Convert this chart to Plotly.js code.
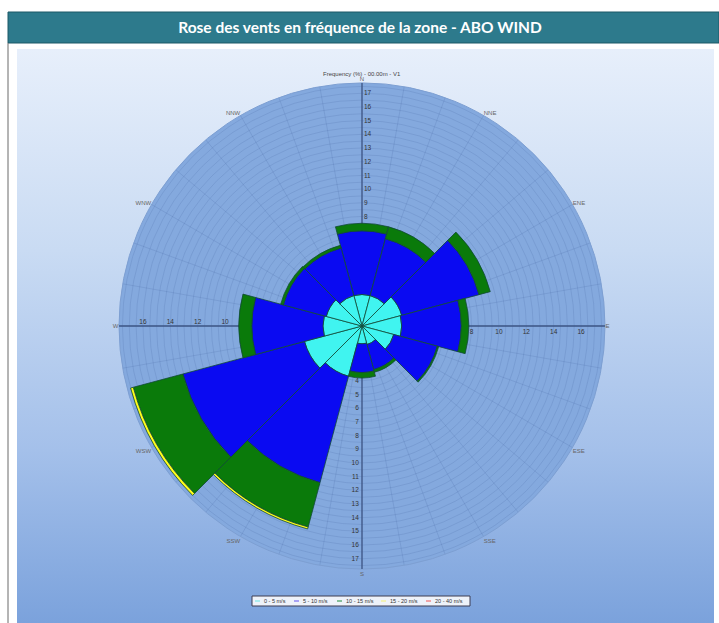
<!DOCTYPE html>
<html>
<head>
<meta charset="utf-8">
<script src="https://cdn.plot.ly/plotly-3.0.1.min.js"></script>
<style>
  html, body { margin: 0; padding: 0; background: #ffffff; }
  #wrap { position: relative; width: 719px; height: 623px; background: #ffffff; overflow: hidden; }
  #panel { position: absolute; left: 17px; top: 49px; width: 697px; height: 574px;
           background: linear-gradient(180deg, #e7effb 0%, #c9dbf3 35%, #a4c0ea 70%, #7ba2dc 100%); }
  #chart { position: absolute; left: 0; top: 0; width: 719px; height: 623px; }
</style>
</head>
<body>
<div id="wrap">
  <div id="panel"></div>
  <div id="chart"></div>
</div>
<script>
// ---- data (frequency %, 12 sectors) ----
const directions = [0, 30, 60, 90, 120, 150, 180, 210, 240, 270, 300, 330];
const dirLabels  = ["N", "NNE", "ENE", "E", "ESE", "SSE", "S", "SSW", "WSW", "W", "WNW", "NNW"];
const speedClasses = ["0 - 5 m/s", "5 - 10 m/s", "10 - 15 m/s", "15 - 20 m/s", "20 - 40 m/s"];
const freq0_5   = [2.3, 2.3, 3.0, 2.9, 2.4, 1.4, 1.3, 3.8, 4.35, 2.85, 2.7, 2.3];
const freq5_10  = [4.65, 4.3, 5.85, 4.35, 3.3, 1.9, 2.1, 8.05, 9.2, 5.2, 3.25, 3.6];
const freq10_15 = [0.55, 0.9, 0.85, 0.55, 0.1, 0.2, 0.4, 3.35, 3.75, 0.95, 0.2, 0.2];
const freq15_20 = [0, 0, 0, 0, 0, 0, 0, 0.15, 0.2, 0, 0, 0];
const freq20_40 = [0, 0, 0, 0, 0, 0, 0, 0, 0, 0, 0, 0];
const classColors = ["#40f4f0", "#0a0af2", "#0a7a0a", "#ffff1a", "#ff2020"];
const legendColors = ["#7fe8e8", "#7a6cf0", "#3f9a5a", "#f4f08a", "#f07070"];
const titleText = "Rose des vents en fréquence de la zone - ABO WIND";
const subTitle = "Frequency (%) - 00.00m - V1";

// ---- layout helpers ----
const W = 719, H = 623;
const cx = 362, cy = 326, R = 243;
const dom = {
  x: [(cx - R) / W, (cx + R) / W],
  y: [1 - (cy + R) / H, 1 - (cy - R) / H]
};
const rMax = 17.75;
const txtFont = "Liberation Sans, Arial, sans-serif";

function hiddenAngular() {
  return { direction: "clockwise", rotation: 90, showgrid: false, showline: false,
           showticklabels: false, ticks: "" };
}
function labelRadial(angle, dtick, tickangle) {
  return { range: [0, rMax], angle: angle, side: "clockwise", dtick: dtick, tick0: 0,
           tickangle: tickangle,
           showgrid: false, showline: true, linecolor: "#3e5686", linewidth: 1.3,
           ticks: "", showticklabels: true,
           tickfont: { family: txtFont, size: 6.5, color: "#333333" } };
}

const seriesData = [freq0_5, freq5_10, freq10_15, freq15_20, freq20_40];
const traces = [];
// empty traces to instantiate background / label subplots
["polar", "polar2", "polar3", "polar4", "polar5"].forEach(function (p) {
  traces.push({ type: "barpolar", r: [], theta: [], subplot: p, showlegend: false, hoverinfo: "skip" });
});
seriesData.forEach(function (vals, i) {
  traces.push({
    type: "barpolar",
    name: speedClasses[i],
    r: vals,
    theta: directions,
    width: directions.map(function () { return 30; }),
    subplot: "polar6",
    showlegend: false,
    marker: { color: classColors[i], line: { color: "#124a36", width: 0.8 } },
    hoverinfo: "skip"
  });
});

// ---- compact legend (box, short line keys, labels) ----
const legX0 = 252, legX1 = 470, legY0 = 596, legY1 = 606, legYc = 601;
const legStart = [255, 294, 337, 381, 426];
const shapes = [
  { type: "rect", xref: "paper", yref: "paper", layer: "below",
    x0: 8 / W, x1: 1, y0: 1 - 43 / H, y1: 1 - 12 / H,
    fillcolor: "#2d7a8c", line: { color: "#1c5866", width: 1 } },
  { type: "line", xref: "paper", yref: "paper", layer: "below",
    x0: 8 / W, x1: 8 / W, y0: 0, y1: 1 - 43 / H,
    line: { color: "#6a6a6a", width: 1 } },
  { type: "rect", xref: "paper", yref: "paper", layer: "above",
    x0: legX0 / W, x1: legX1 / W, y0: 1 - legY1 / H, y1: 1 - legY0 / H,
    fillcolor: "#eef2f9", line: { color: "#3c3c52", width: 1 } }
];
const annotations = [
  { text: subTitle, xref: "paper", yref: "paper", x: cx / W, y: 1 - 69 / H,
    showarrow: false, font: { family: txtFont, size: 6, color: "#444444" } }
];
speedClasses.forEach(function (name, i) {
  shapes.push({ type: "line", xref: "paper", yref: "paper", layer: "above",
    x0: legStart[i] / W, x1: (legStart[i] + 5) / W, y0: 1 - legYc / H, y1: 1 - legYc / H,
    line: { color: legendColors[i], width: 1.2 } });
  annotations.push({ text: name, xref: "paper", yref: "paper", x: (legStart[i] + 6.5) / W,
    y: 1 - legYc / H, xanchor: "left", yanchor: "middle", showarrow: false,
    font: { family: txtFont, size: 5.5, color: "#333333" } });
});

const layout = {
  width: W, height: H,
  margin: { l: 0, r: 0, t: 0, b: 0 },
  paper_bgcolor: "rgba(0,0,0,0)",
  plot_bgcolor: "rgba(0,0,0,0)",
  title: {
    text: "<b>" + titleText + "</b>",
    font: { family: "Lato, Open Sans, sans-serif", size: 15.5, color: "#ffffff" },
    x: 360 / W, xref: "paper", xanchor: "center",
    y: 1 - 28 / H, yref: "paper", yanchor: "middle"
  },
  shapes: shapes,
  annotations: annotations,
  // background + fine grid
  polar: {
    domain: dom, bgcolor: "#84a9de",
    radialaxis: { range: [0, rMax], dtick: 0.5, tick0: 0, showticklabels: false, ticks: "",
                  showline: false, gridcolor: "rgba(60,90,150,0.28)", gridwidth: 0.6 },
    angularaxis: { direction: "clockwise", rotation: 90, dtick: 10, showticklabels: false, ticks: "",
                   showline: true, linecolor: "#7d9fd2", linewidth: 1,
                   gridcolor: "rgba(60,90,150,0.28)", gridwidth: 0.6 }
  },
  // N radial labels
  polar2: { domain: dom, bgcolor: "rgba(0,0,0,0)", radialaxis: labelRadial(90, 1, 90), angularaxis: hiddenAngular() },
  // S radial labels + direction labels
  polar3: { domain: dom, bgcolor: "rgba(0,0,0,0)", radialaxis: labelRadial(270, 1, -90),
            angularaxis: { direction: "clockwise", rotation: 90, tickmode: "array",
                           tickvals: directions, ticktext: dirLabels, showgrid: false,
                           showline: false, ticks: "", ticklen: 0,
                           tickfont: { family: txtFont, size: 6, color: "#666666" } } },
  // E radial labels
  polar4: { domain: dom, bgcolor: "rgba(0,0,0,0)", radialaxis: labelRadial(0, 2, 0), angularaxis: hiddenAngular() },
  // W radial labels
  polar5: { domain: dom, bgcolor: "rgba(0,0,0,0)", radialaxis: labelRadial(180, 2, 180), angularaxis: hiddenAngular() },
  // bars
  polar6: {
    domain: dom, bgcolor: "rgba(0,0,0,0)", barmode: "stack",
    radialaxis: { range: [0, rMax], showgrid: false, showline: false, showticklabels: false, ticks: "" },
    angularaxis: hiddenAngular()
  },
  showlegend: false
};

Plotly.newPlot("chart", traces, layout, { staticPlot: true, displayModeBar: false });
</script>
</body>
</html>
